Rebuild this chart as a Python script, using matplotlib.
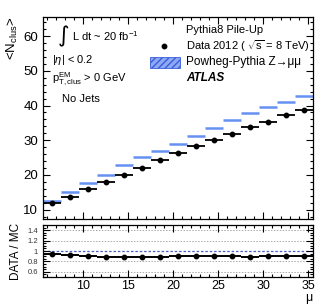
import numpy as np
import matplotlib
matplotlib.use("Agg")
import matplotlib.pyplot as plt
from matplotlib.patches import Rectangle
from matplotlib.ticker import MultipleLocator

plt.rcParams['font.family'] = ['Liberation Sans', 'DejaVu Sans']
plt.rcParams['mathtext.fontset'] = 'custom'
plt.rcParams['mathtext.rm'] = 'Liberation Sans'
plt.rcParams['mathtext.it'] = 'Liberation Sans:italic'
plt.rcParams['mathtext.bf'] = 'Liberation Sans:bold'

mu_centers = [6.5, 8.5, 10.5, 12.5, 14.5, 16.5, 18.5, 20.5, 22.5, 24.5, 26.5, 28.5, 30.5, 32.5, 34.5]
mu_halfwidth = 1.0
data_nclus = [11.9, 13.7, 15.9, 17.9, 20.1, 22.0, 24.2, 26.2, 28.3, 30.2, 31.9, 33.8, 35.3, 37.2, 38.8]
mc_nclus = [12.5, 15.0, 17.6, 20.1, 22.8, 25.3, 27.0, 28.8, 31.2, 33.6, 35.8, 37.8, 39.5, 41.1, 42.8]
ratio = [0.95, 0.92, 0.905, 0.885, 0.88, 0.88, 0.89, 0.91, 0.90, 0.90, 0.90, 0.885, 0.90, 0.905, 0.90]

mu = np.array(mu_centers)
d = np.array(data_nclus)
m = np.array(mc_nclus)
r = np.array(ratio)

W, H = 329, 305
fig = plt.figure(figsize=(W/100, H/100), dpi=100)
L, R = 43/W, 312.7/W
ax = fig.add_axes([L, 1-219/H, R-L, (219-17)/H])
axr = fig.add_axes([L, 1-277/H, R-L, (277-225)/H])

blue = '#6690f2'
for a in (ax, axr):
    a.set_xlim(5.5, 35.5)
    a.xaxis.set_major_locator(MultipleLocator(5))
    a.xaxis.set_minor_locator(MultipleLocator(1))
    a.tick_params(which='both', direction='in', top=True, right=True, width=0.8, colors='black')
    a.tick_params(which='major', length=5)
    a.tick_params(which='minor', length=2.5)
    for s in a.spines.values():
        s.set_linewidth(0.9)

ax.set_ylim(7.3, 65.5)
ax.yaxis.set_major_locator(MultipleLocator(10))
ax.yaxis.set_minor_locator(MultipleLocator(2))
ax.tick_params(labelbottom=False, labelsize=9.5)

ax.hlines(m, mu - mu_halfwidth, mu + mu_halfwidth, color=blue, lw=1.8, zorder=2)
ax.errorbar(mu, d, xerr=mu_halfwidth, fmt='o', color='black', ms=3.2, elinewidth=1.3, capsize=0, zorder=3)

ax.set_ylabel(r'<N$_{\mathregular{clus}}$>', fontsize=9.5, loc='top', labelpad=2)

fx = lambda px: (px - 43) / (312.7 - 43)
fy = lambda py: (219 - py) / (219 - 17)

# left annotations
ax.text(fx(58), fy(36), '\u222b', transform=ax.transAxes, fontsize=16, va='center', ha='left',
        family=['DejaVu Sans'])
ax.text(fx(72), fy(36), r'L dt ~ 20 fb$^{\mathregular{-1}}$', transform=ax.transAxes, fontsize=8, va='center')
ax.text(fx(52), fy(60), r'|$\eta$| < 0.2', transform=ax.transAxes, fontsize=8, va='center')
ax.text(fx(52), fy(79), r'p$^{\mathregular{EM}}_{\mathregular{T,clus}}$ > 0 GeV', transform=ax.transAxes, fontsize=8, va='center')
ax.text(fx(62), fy(99), 'No Jets', transform=ax.transAxes, fontsize=8, va='center')

# legend (manual)
ax.text(fx(186), fy(30), 'Pythia8 Pile-Up', transform=ax.transAxes, fontsize=8, va='center')
ax.plot([fx(164)], [fy(46)], 'o', color='black', ms=3.2, transform=ax.transAxes, clip_on=False)
ax.text(fx(186), fy(46), r'Data 2012 ( $\sqrt{\mathregular{s}}$ = 8 TeV)', transform=ax.transAxes, fontsize=8, va='center')
ax.add_patch(Rectangle((fx(150), fy(68)), fx(180)-fx(150), fy(57)-fy(68), transform=ax.transAxes,
                       facecolor='#8fa8f5', edgecolor='#3a5fd8', hatch='/////', lw=0.6))
ax.text(fx(186), fy(62), 'Powheg-Pythia Z\u2192\u03bc\u03bc', transform=ax.transAxes, fontsize=8.5, va='center')
ax.text(fx(186), fy(78), 'ATLAS', transform=ax.transAxes, fontsize=8.5, va='center', fontweight='bold', style='italic')

# ratio panel
axr.set_ylim(0.5, 1.5)
axr.set_yticks([0.6, 0.8, 1.0, 1.2, 1.4])
axr.set_yticklabels(['0.6', '0.8', '1', '1.2', '1.4'])
axr.yaxis.set_minor_locator(MultipleLocator(0.05))
axr.tick_params(axis='y', labelsize=5.5, colors='black', labelcolor='#333333')
axr.tick_params(axis='x', labelsize=9, pad=2)
axr.tick_params(which='minor', axis='y', length=2)
for gy in [0.6, 0.8, 1.2, 1.4]:
    axr.axhline(gy, color='#aaaaaa', lw=0.7, ls=(0, (1.5, 1.5)), zorder=1)
axr.axhline(1.0, color='#4a5fc0', lw=0.9, ls=(0, (2, 1.5)), zorder=1)
axr.errorbar(mu, r, xerr=mu_halfwidth, fmt='o', color='black', ms=3.2, elinewidth=1.4, capsize=0, zorder=3)
axr.set_ylabel('DATA / MC', fontsize=8.5, labelpad=4)
axr.set_xlabel('\u03bc', fontsize=9, loc='right', labelpad=0)

fig.savefig('out.png', dpi=100)
